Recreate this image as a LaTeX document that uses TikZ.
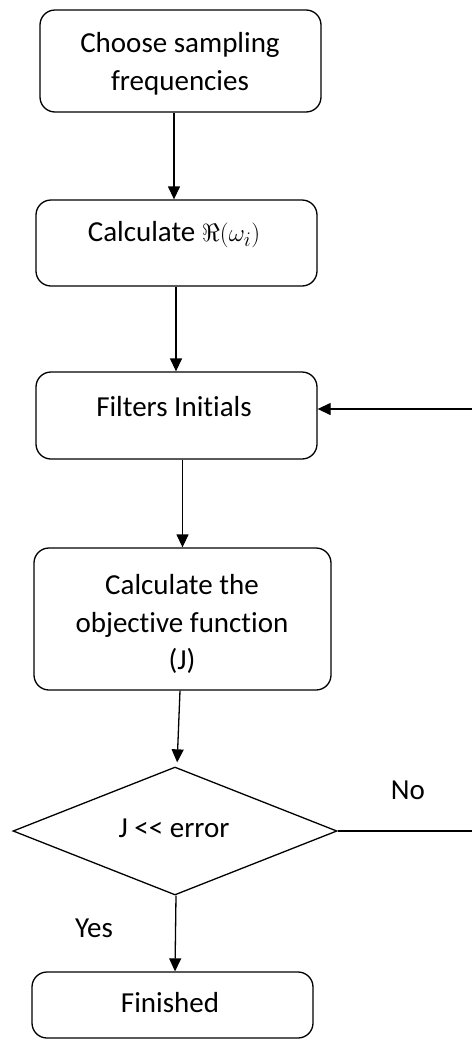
\documentclass[tikz,border=0pt]{standalone}
\usepackage{fontspec}
\setmainfont{Carlito}[Ligatures=NoCommon]
\usetikzlibrary{shapes.geometric,arrows.meta}
\begin{document}
\begin{tikzpicture}[x=1pt,y=-1pt,
  every node/.style={font=\fontsize{29}{37.5}\selectfont},
  box/.style={draw, line width=1.3pt, rounded corners=15pt, inner sep=0pt},
  dia/.style={draw, line width=1.3pt, shape=diamond, inner sep=0pt},
  txt/.style={align=center, inner sep=0pt},
  conn/.style={line width=1.3pt},
  arr/.style={line width=1.3pt, -{Triangle[width=12pt,length=13pt]}}]
\useasboundingbox (0,0) rectangle (472,1039);
% boxes
\node[box, minimum width=281pt, minimum height=102pt] (b1) at (180.5,61) {};
\node[box, minimum width=281pt, minimum height=86pt] (b2) at (176.5,243) {};
\node[box, minimum width=281pt, minimum height=87pt] (b3) at (176.5,415.5) {};
\node[box, minimum width=297pt, minimum height=142pt] (b4) at (182.5,619) {};
\node[dia, minimum width=324pt, minimum height=128pt] (d) at (175,831) {};
\node[box, minimum width=281pt, minimum height=66pt] (b5) at (172.5,1005) {};
% texts
\node[txt] (t1) at (180,64) {Choose sampling\\frequencies};
\node[txt] (t2) at (174,235) {Calculate $\Re(\omega_i)$};
\node[txt] (t3) at (174,407) {Filters Initials};
\node[txt] (t4) at (182,624) {Calculate the\\objective function\\(J)};
\node[txt] (t5) at (174,828) {J {<}{<} error};
\node[txt] (t6) at (170,1003) {Finished};
\node[txt] (no) at (408,790) {No};
\node[txt] (yes) at (94,928) {Yes};
% connectors
\draw[arr] ([xshift=-6.5pt]b1.south) -- ([xshift=-2.5pt]b2.north);
\draw[arr] ([xshift=-0.5pt]b2.south) -- ([xshift=-0.5pt]b3.north);
\draw[arr] (b4.north |- b3.south) -- (b4.north);
\draw[arr, shorten >=4pt] ([xshift=-2.5pt]b4.south) -- ([xshift=2pt]d.north);
\draw[arr] ([xshift=1pt]d.south) -- ([xshift=2.5pt]b5.north);
\coordinate (r1) at (472,831);
\coordinate (r2) at (472,409);
\draw[conn] (d.east) -- (r1);
\draw[arr] (r2) -- (b3.east |- r2);
\end{tikzpicture}
\end{document}
